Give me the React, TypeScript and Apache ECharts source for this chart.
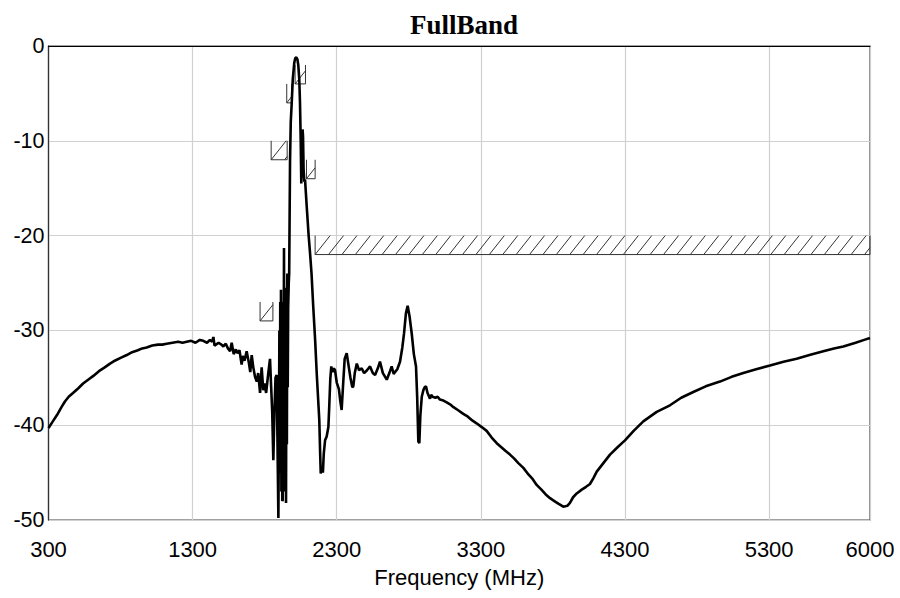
import React, { useEffect, useRef } from "react";
import * as echarts from "echarts";

const X_OFFSET = 300;

const freqMHz = [
  300, 330, 360, 390, 414, 440, 470, 507, 540, 575, 611, 650, 690, 727, 760, 800, 843, 880, 920, 950,
  981, 1020, 1060, 1090, 1120, 1160, 1200, 1230, 1259, 1290, 1320, 1350, 1374, 1400, 1420, 1435, 1444,
  1452, 1480, 1500, 1513, 1530, 1545, 1560, 1571, 1585, 1600, 1610, 1625, 1640, 1648, 1660, 1675, 1690,
  1700, 1710, 1721, 1733, 1745, 1755, 1768, 1779, 1790, 1800, 1810, 1825, 1837, 1845, 1852, 1860, 1867,
  1875, 1883, 1889, 1895, 1899, 1902, 1905, 1908, 1911, 1913, 1916, 1919, 1922, 1925, 1928, 1931, 1934,
  1937, 1940, 1943, 1946, 1948, 1951, 1954, 1957, 1960, 1963, 1967, 1970, 1973, 1976, 1981, 1987, 1995,
  2005, 2012, 2020, 2027, 2033, 2040,
  2045, 2050, 2054, 2058, 2063, 2066, 2070, 2075, 2080, 2092, 2105, 2115, 2125, 2137, 2150, 2161, 2170,
  2179, 2185, 2189, 2198, 2204, 2210, 2219, 2230, 2242, 2248, 2255, 2262, 2270, 2280, 2288, 2300, 2315,
  2325, 2334, 2345, 2355, 2369, 2380, 2395, 2408, 2415, 2425, 2439, 2455, 2473, 2490, 2510, 2531, 2550,
  2566, 2585, 2600, 2620, 2647, 2665, 2681, 2695, 2704, 2720, 2739, 2755, 2767, 2780, 2792, 2805, 2820,
  2835, 2850, 2858, 2866, 2873, 2880, 2890, 2901, 2910, 2919, 2930, 2947, 2955, 2965, 2985, 3000, 3016,
  3040, 3063, 3086, 3110, 3140, 3178, 3210, 3240, 3270, 3306, 3340, 3375, 3410, 3440, 3470, 3502, 3530,
  3560, 3595, 3630, 3660, 3687, 3720, 3750, 3780, 3810, 3840, 3872, 3900, 3918, 3940, 3965, 4000, 4030,
  4057, 4080, 4104, 4150, 4196, 4250, 4300, 4360, 4427, 4520, 4612, 4690, 4774, 4860, 4959, 5040, 5121,
  5210, 5306, 5400, 5491, 5580, 5676, 5750, 5815, 5900, 5960, 6000,
];

const levelDb = [
  -40.3, -39.6, -38.9, -38.1, -37.5, -37.0, -36.6, -36.1, -35.6, -35.2, -34.8, -34.3, -33.9, -33.5, -33.2,
  -32.9, -32.6, -32.3, -32.1, -31.9, -31.8, -31.6, -31.5, -31.5, -31.4, -31.3, -31.2, -31.3, -31.2, -31.1,
  -31.3, -31.0, -31.1, -31.3, -31.0, -31.2, -30.7, -31.6, -31.3, -31.5, -31.7, -31.4, -31.9, -32.2, -31.3,
  -32.5, -32.0, -32.4, -32.1, -33.6, -32.7, -33.2, -32.2, -33.4, -34.4, -32.6, -33.9, -34.9, -35.4, -34.5,
  -36.6, -33.9, -36.3, -35.6, -36.6, -34.5, -33.0, -36.0, -38.5, -43.7, -39.0, -35.0, -34.7, -42.0, -49.8,
  -40.0, -30.0, -45.0, -27.0, -44.0, -25.7, -47.0, -30.0, -48.0, -47.9, -27.0, -40.0, -21.3,
  -45.0, -25.5, -47.0, -28.0, -48.2, -30.0, -42.0, -24.0, -36.0, -27.5, -25.0, -24.0, -18.0, -12.0, -8.0,
  -6.2, -3.5, -1.8, -1.3, -1.2, -1.4, -2.0, -3.5, -6.0,
  -10.0, -14.5, -11.0, -8.8, -9.5, -13.0, -14.3, -14.1, -17.0, -20.0, -21.9, -24.0, -27.5, -31.0, -34.5,
  -37.0, -39.5, -43.0, -45.1, -44.5, -45.0, -43.0, -41.6, -41.2, -40.2, -38.0, -35.2, -33.8, -34.4, -34.0,
  -34.2, -35.5, -36.2, -37.5, -38.4, -35.5, -33.0, -32.4, -33.5, -35.0, -36.0, -35.9, -34.5, -33.5, -34.2,
  -34.0, -34.5, -34.2, -33.8, -34.5, -34.7, -34.0, -33.3, -34.5, -35.2, -34.5, -33.8, -34.6, -34.4, -34.1,
  -33.3, -31.8, -30.3, -28.2, -27.4, -28.5, -30.3, -32.5, -33.8, -37.0, -41.7, -41.9, -39.0, -37.0, -36.3,
  -36.0, -35.9, -36.6, -37.2, -36.8, -37.0, -37.1, -37.0, -37.3, -37.4, -37.6, -37.8, -38.1, -38.4, -38.8,
  -39.1, -39.5, -39.8, -40.2, -40.6, -41.3, -41.9, -42.3, -42.7, -43.1, -43.5, -44.0, -44.5, -45.2, -45.7,
  -46.3, -46.8, -47.3, -47.7, -48.0, -48.3, -48.6, -48.5, -48.2, -47.6, -47.2, -46.8, -46.5, -46.2, -45.6,
  -44.9, -44.0, -43.1, -42.3, -41.6, -40.6, -39.6, -38.6, -37.9, -37.1, -36.5, -35.9, -35.4, -34.9, -34.5,
  -34.1, -33.7, -33.3, -33.0, -32.6, -32.2, -31.9, -31.7, -31.3, -31.0, -30.8,
];

// Limit mask segments (upper limit, hatched 2 dB above)
const maskStart = [1768, 1845, 1953, 2011, 2090, 2150];
const maskEnd = [1857, 1956, 1988, 2083, 2150, 6000];
const maskLimit = [-29, -12, -6, -4, -14, -22];
const HATCH_DB = 2;

const xTickValues = [300, 1300, 2300, 3300, 4300, 5300, 6000];
const yTickValues = [0, -10, -20, -30, -40, -50];

export default function App() {
  const ref = useRef<HTMLDivElement>(null);

  useEffect(() => {
    if (!ref.current) return;
    const chart = echarts.init(ref.current, null, { renderer: "svg" });

    const lineData = freqMHz.map((f, i) => [f - X_OFFSET, levelDb[i]]);
    const maskData = maskStart.map((s, i) => [s - X_OFFSET, maskEnd[i] - X_OFFSET, maskLimit[i]]);

    const stroke = "#333";
    const renderMask = (params: any, api: any) => {
      const s = api.value(0);
      const e = api.value(1);
      const lim = api.value(2);
      const p0 = api.coord([s, lim]);
      const p1 = api.coord([e, lim]);
      const pt = api.coord([s, lim + HATCH_DB]);
      const x0 = p0[0];
      const x1 = p1[0];
      const yb = p0[1];
      const yt = pt[1];
      const st = { stroke, lineWidth: 1, fill: null };
      const children: any[] = [
        { type: "line", shape: { x1: x0, y1: yb, x2: x1, y2: yb }, style: st },
        { type: "line", shape: { x1: x0, y1: yb, x2: x0, y2: yt }, style: st },
        { type: "line", shape: { x1: x1, y1: yb, x2: x1, y2: yt }, style: st },
      ];
      const spacing = 13.4;
      const dx = 15;
      for (let x = x0; x < x1 - 0.5; x += spacing) {
        let xe = x + dx;
        let ye = yt;
        if (xe > x1) {
          const frac = (x1 - x) / dx;
          xe = x1;
          ye = yb - frac * (yb - yt);
        }
        children.push({ type: "line", shape: { x1: x, y1: yb, x2: xe, y2: ye }, style: st });
      }
      return { type: "group", children };
    };

    const option: any = {
      animation: false,
      backgroundColor: "#fff",
      title: {
        text: "FullBand",
        left: 459,
        top: 6,
        textAlign: "center",
        textStyle: {
          fontFamily: "Liberation Serif",
          fontWeight: "bold",
          fontSize: 27,
          color: "#000",
        },
      },
      grid: {
        left: 48.5,
        top: 46,
        width: 821.5,
        height: 474,
        show: true,
        borderColor: "#444",
        borderWidth: 1.2,
        backgroundColor: "transparent",
        containLabel: false,
      },
      xAxis: {
        type: "value",
        min: xTickValues[0] - X_OFFSET,
        max: xTickValues[xTickValues.length - 1] - X_OFFSET,
        interval: 1000,
        name: "Frequency (MHz)",
        nameLocation: "middle",
        nameGap: 46,
        nameTextStyle: { fontFamily: "Liberation Sans", fontSize: 22, color: "#000" },
        axisLine: { show: true, lineStyle: { color: "#000", width: 1.2 } },
        axisTick: { show: false },
        axisLabel: {
          margin: 18,
          fontFamily: "Liberation Sans",
          fontSize: 22,
          color: "#000",
          showMinLabel: true,
          showMaxLabel: true,
          formatter: (v: number) => String(Math.round(v + X_OFFSET)),
        },
        splitLine: { show: true, lineStyle: { color: "#d0d0d0", width: 1.2 } },
      },
      yAxis: {
        type: "value",
        min: yTickValues[yTickValues.length - 1],
        max: yTickValues[0],
        interval: 10,
        axisLine: { show: true, lineStyle: { color: "#333", width: 1.2 } },
        axisTick: { show: false },
        axisLabel: {
          margin: 4,
          fontFamily: "Liberation Sans",
          fontSize: 21.5,
          color: "#000",
        },
        splitLine: { show: true, lineStyle: { color: "#d0d0d0", width: 1.2 } },
      },
      series: [
        {
          type: "custom",
          name: "mask",
          renderItem: renderMask,
          encode: { x: [0, 1], y: 2 },
          data: maskData,
          clip: true,
          z: 3,
          silent: true,
        },
        {
          type: "line",
          name: "S21",
          data: lineData,
          showSymbol: false,
          symbol: "none",
          lineStyle: { color: "#000", width: 2.6 },
          clip: true,
          z: 4,
        },
      ],
    };

    chart.setOption(option);
    return () => chart.dispose();
  }, []);

  return (
    <div
      ref={ref}
      style={{ position: "fixed", left: 0, top: 0, width: 900, height: 598, background: "#fff" }}
    />
  );
}
